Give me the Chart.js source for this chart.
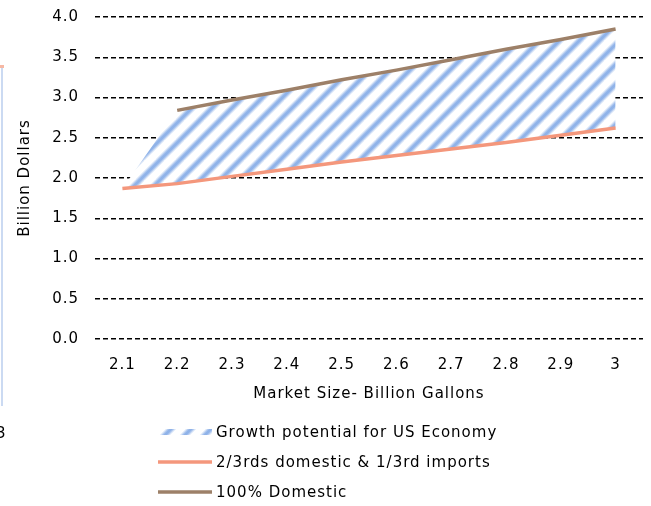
<!DOCTYPE html>
<html>
<head>
<meta charset="utf-8">
<script src="https://cdn.jsdelivr.net/npm/chart.js@4"></script>
<style>
  body { margin: 0; background: #fff; }
  #wrap { position: relative; width: 651px; height: 506px; }
  #edge { position: absolute; left: 1px; top: 66px; width: 2px; height: 340px; background: #cbdaf2; }
  #edgeTop { position: absolute; left: 0; top: 65px; width: 4px; height: 3px; background: #f6b8a4; }
  #edgeNum { position: absolute; left: -4px; top: 424px; font: 15px "DejaVu Sans"; color: #000; }
</style>
</head>
<body>
<div id="wrap">
  <canvas id="chart" width="651" height="506"></canvas>
  <div id="edge"></div>
  <div id="edgeTop"></div>
  <div id="edgeNum">3</div>
</div>
<script>
// values
const marketSizes = ['2.1', '2.2', '2.3', '2.4', '2.5', '2.6', '2.7', '2.8', '2.9', '3'];
const twoThirdsDomestic = [1.87, 1.93, 2.02, 2.11, 2.20, 2.28, 2.36, 2.44, 2.53, 2.62];
const fullDomestic = [null, 2.84, 2.97, 3.09, 3.22, 3.34, 3.47, 3.60, 3.72, 3.85];
const yTicks = [0, 0.5, 1, 1.5, 2, 2.5, 3, 3.5, 4];

const seriesLabels = [
    'Growth potential for US Economy',
    '2/3rds domestic & 1/3rd imports',
    '100% Domestic'
];

const ORANGE = '#f4977c';
const BROWN = '#9d8068';
const SPACING = '1px';

// top edge of the shaded band: 100% domestic, closing on the lower line at 2.1
const growthTop = fullDomestic.map((v, i) => v === null ? twoThirdsDomestic[i] : v);

function makeStripes() {
    const size = 20;
    const c = document.createElement('canvas');
    c.width = size;
    c.height = size;
    const g = c.getContext('2d');
    g.fillStyle = '#ffffff';
    g.fillRect(0, 0, size, size);
    const stroke = (w, col) => {
        g.strokeStyle = col;
        g.lineWidth = w;
        [-size, 0, size].forEach(off => {
            g.beginPath();
            g.moveTo(off - 2, size + 2);
            g.lineTo(off + size + 2, -2);
            g.stroke();
        });
    };
    stroke(7, '#d6e3f6');
    stroke(4.5, '#a9c4ee');
    stroke(2.5, '#90b3e8');
    return g.createPattern(c, 'repeat');
}

Chart.defaults.font.family = '"DejaVu Sans", sans-serif';
Chart.defaults.font.size = 15;
Chart.defaults.color = '#000';

const stripes = makeStripes();

// the source font is wider than DejaVu, so space the letters out a bit
const letterSpacing = {
    id: 'letterSpacing',
    beforeUpdate(chart) { chart.ctx.letterSpacing = SPACING; },
    beforeLayout(chart) { chart.ctx.letterSpacing = SPACING; },
    beforeDraw(chart) { chart.ctx.letterSpacing = SPACING; }
};

const stackedLegend = {
    id: 'stackedLegend',
    afterDraw(chart) {
        const ctx = chart.ctx;
        const x0 = 158, x1 = 212, textX = 216;
        const rows = [432, 462, 492];
        ctx.save();
        ctx.letterSpacing = SPACING;
        ctx.font = '15px "DejaVu Sans"';
        ctx.textBaseline = 'middle';
        rows.forEach((y, i) => {
            if (i === 0) {
                ctx.fillStyle = stripes;
                ctx.fillRect(x0, y - 3, x1 - x0, 6);
            } else {
                ctx.strokeStyle = i === 1 ? ORANGE : BROWN;
                ctx.lineWidth = 3.5;
                ctx.beginPath();
                ctx.moveTo(x0, y);
                ctx.lineTo(x1, y);
                ctx.stroke();
            }
            ctx.fillStyle = '#000';
            ctx.fillText(seriesLabels[i], textX, y + 1);
        });
        ctx.restore();
    }
};

new Chart(document.getElementById('chart').getContext('2d'), {
    type: 'line',
    data: {
        labels: marketSizes,
        datasets: [
            {
                label: seriesLabels[0],
                data: growthTop,
                fill: 1,
                backgroundColor: stripes,
                borderWidth: 0,
                pointRadius: 0,
                tension: 0,
                order: 3
            },
            {
                label: seriesLabels[1],
                data: twoThirdsDomestic,
                borderColor: ORANGE,
                borderWidth: 3.5,
                pointRadius: 0,
                tension: 0,
                fill: false,
                order: 2
            },
            {
                label: seriesLabels[2],
                data: fullDomestic,
                borderColor: BROWN,
                borderWidth: 3.5,
                pointRadius: 0,
                tension: 0,
                fill: false,
                order: 1
            }
        ]
    },
    options: {
        responsive: false,
        animation: false,
        layout: { padding: { top: 17, right: 8, bottom: 97, left: 0 } },
        plugins: {
            legend: { display: false },
            tooltip: { enabled: false }
        },
        scales: {
            x: {
                offset: true,
                grid: { display: false, drawTicks: false },
                border: { display: false },
                ticks: { padding: 17 },
                title: {
                    display: true,
                    text: 'Market Size- Billion Gallons',
                    padding: { top: 0, bottom: 6 }
                },
                afterFit(scale) { scale.height = 70; }
            },
            y: {
                min: 0,
                max: 4,
                afterBuildTicks(scale) { scale.ticks = yTicks.map(v => ({ value: v })); },
                grid: { color: '#000', lineWidth: 1.5, drawTicks: false },
                border: { display: false, dash: [5, 3] },
                ticks: {
                    padding: 16,
                    callback: v => v.toFixed(1)
                },
                title: {
                    display: true,
                    text: 'Billion Dollars',
                    padding: { top: 16, bottom: 0 }
                },
                afterFit(scale) {
                    scale.width = 95;
                    scale.paddingTop = 0;
                    scale.paddingBottom = 0;
                }
            }
        }
    },
    plugins: [letterSpacing, stackedLegend]
});
</script>
</body>
</html>
